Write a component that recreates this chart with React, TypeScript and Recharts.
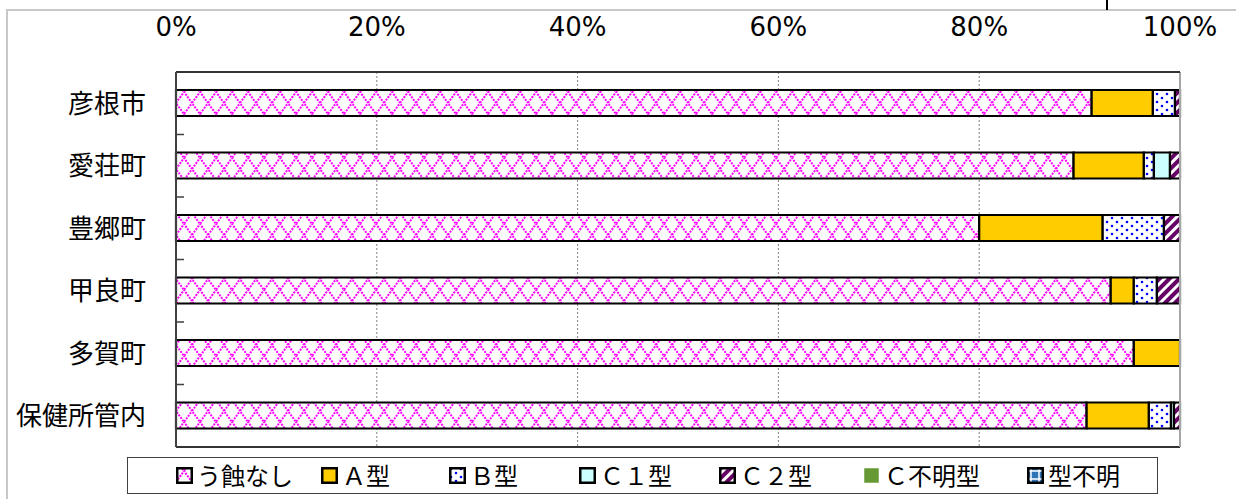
import React from 'react';
import { BarChart, Bar, XAxis, YAxis, CartesianGrid, ReferenceLine } from 'recharts';

const categories = ['彦根市', '愛荘町', '豊郷町', '甲良町', '多賀町', '保健所管内'];
const seriesNames = ['う蝕なし', 'A型', 'B型', 'C１型', 'C２型', 'C不明型', '型不明'];
const legendLabels = ['う蝕なし', 'Ａ型', 'Ｂ型', 'Ｃ１型', 'Ｃ２型', 'Ｃ不明型', '型不明'];
const noCaries = [91.2, 89.4, 80.0, 93.1, 95.4, 90.7];
const typeA = [6.1, 7.0, 12.3, 2.3, 4.6, 6.2];
const typeB = [2.2, 1.0, 6.1, 2.3, 0, 2.2];
const typeC1 = [0, 1.6, 0, 0, 0, 0.3];
const typeC2 = [0.5, 1.0, 1.6, 2.3, 0, 0.6];
const typeCUnknown = [0, 0, 0, 0, 0, 0];
const typeUnknown = [0, 0, 0, 0, 0, 0];
const xTicks = [0, 20, 40, 60, 80, 100];

const seriesValues = [noCaries, typeA, typeB, typeC1, typeC2, typeCUnknown, typeUnknown];
const fills = ['url(#pNone)', '#FFCC00', 'url(#pB)', '#CCFFFF', 'url(#pC2)', '#669933', 'url(#pUnk)'];

const data = categories.map((c, i) => {
  const row: Record<string, any> = { name: c };
  seriesNames.forEach((s, k) => {
    row[s] = seriesValues[k][i];
  });
  return row;
});

const legendLefts = [48, 193, 321, 451, 591, 735, 899];

const LegendBox = () => (
  <div
    style={{
      position: 'absolute',
      left: 127,
      top: 457,
      width: 1031,
      height: 37,
      boxSizing: 'border-box',
      border: '1.5px solid #404040',
      background: '#fff',
      fontFamily: '"Noto Sans CJK JP", sans-serif',
      fontSize: 24,
      color: '#000',
    }}
  >
    {legendLabels.map((l, i) => (
      <div
        key={l}
        style={{ position: 'absolute', left: legendLefts[i], top: 0, height: 34, display: 'flex', alignItems: 'center', whiteSpace: 'nowrap' }}
      >
        <svg width={17} height={17} style={{ marginRight: 4 }}>
          <rect x={1.25} y={1.25} width={14.5} height={14.5} fill={fills[i]} stroke={i === 5 ? 'none' : '#000'} strokeWidth={2.5} />
        </svg>
        <span style={{ lineHeight: '34px' }}>{l}</span>
      </div>
    ))}
  </div>
);

const CatTick = (props: any) => {
  const { x, y, payload, index, visibleTicksCount } = props;
  const half = payload && payload.offset ? payload.offset : 0;
  const axisX = x + 30;
  const last = index === (visibleTicksCount ?? categories.length) - 1;
  return (
    <g>
      <text
        x={x}
        y={y}
        dy="0.36em"
        textAnchor="end"
        fill="#000"
        fontSize={26}
        fontFamily='"Noto Sans CJK JP", sans-serif'
      >
        {payload.value}
      </text>
      {!last && half > 0 && (
        <line x1={axisX} x2={axisX + 8} y1={y + half} y2={y + half} stroke="#404040" strokeWidth={1.5} />
      )}
    </g>
  );
};

export default function App() {
  return (
    <div style={{ position: 'absolute', left: 0, top: 0, width: 1236, height: 499, overflow: 'hidden', background: '#fff' }}>
      <div
        style={{
          position: 'absolute',
          left: 6,
          top: 9,
          width: 1300,
          height: 600,
          border: '2px solid #c8c8c8',
        }}
      />
      <div style={{ position: 'absolute', left: 1106, top: 0, width: 1.5, height: 10, background: '#000' }} />
      <div style={{ position: 'absolute', left: 0, top: 0 }}>
        <BarChart
          width={1236}
          height={499}
          data={data}
          layout="vertical"
          margin={{ top: 0, right: 56, bottom: 52, left: 0 }}
          barSize={26}
        >
          <defs>
            <pattern id="pNone" patternUnits="userSpaceOnUse" width={16} height={22} x={0} y={4}>
              <rect width={16} height={22} fill="#fff" />
              <path
                d="M0,11 L8,0 L16,11 L8,22 Z"
                stroke="#FF00FF"
                strokeWidth={2}
                strokeDasharray="2 1.2"
                fill="none"
              />
            </pattern>
            <pattern id="pB" patternUnits="userSpaceOnUse" width={10} height={8}>
              <rect width={10} height={8} fill="#fff" />
              <circle cx={2} cy={2} r={1.3} fill="#0000FF" />
              <circle cx={7} cy={6} r={1.3} fill="#0000FF" />
            </pattern>
            <pattern id="pC2" patternUnits="userSpaceOnUse" width={7} height={7} patternTransform="rotate(45)">
              <rect width={7} height={7} fill="#fff" />
              <rect width={4} height={7} fill="#660066" />
            </pattern>
            <pattern id="pUnk" patternUnits="userSpaceOnUse" width={8} height={8}>
              <rect width={8} height={8} fill="#2E75B6" />
              <path d="M0,4 H8 M4,0 V8" stroke="#fff" strokeWidth={1.5} />
            </pattern>
          </defs>
          <CartesianGrid horizontal={false} stroke="#808080" strokeDasharray="2 2" />
          <CartesianGrid
            vertical={false}
            stroke="#333"
            strokeWidth={2}
            horizontalCoordinatesGenerator={(p: any) => [p.offset.top + p.offset.height]}
          />
          <XAxis
            type="number"
            orientation="top"
            domain={[0, 100]}
            ticks={xTicks}
            tickFormatter={(v) => `${v}%`}
            height={72}
            tickLine={false}
            tickSize={0}
            tickMargin={36}
            axisLine={{ stroke: '#333', strokeWidth: 2 }}
            tick={{ fill: '#000', fontSize: 26, fontFamily: '"DejaVu Sans", sans-serif' }}
            interval={0}
          />
          <YAxis
            type="category"
            dataKey="name"
            width={176}
            tickLine={false}
            tickSize={0}
            tickMargin={30}
            axisLine={{ stroke: '#404040', strokeWidth: 2 }}
            tick={<CatTick />}
            interval={0}
          />
          <ReferenceLine x={100} stroke="#a6a6a6" strokeWidth={2} />
          {seriesNames.map((s, i) => (
            <Bar
              key={s}
              dataKey={s}
              stackId="a"
              fill={fills[i]}
              stroke="#000"
              strokeWidth={2.2}
              isAnimationActive={false}
            />
          ))}
        </BarChart>
      </div>
      <LegendBox />
    </div>
  );
}
